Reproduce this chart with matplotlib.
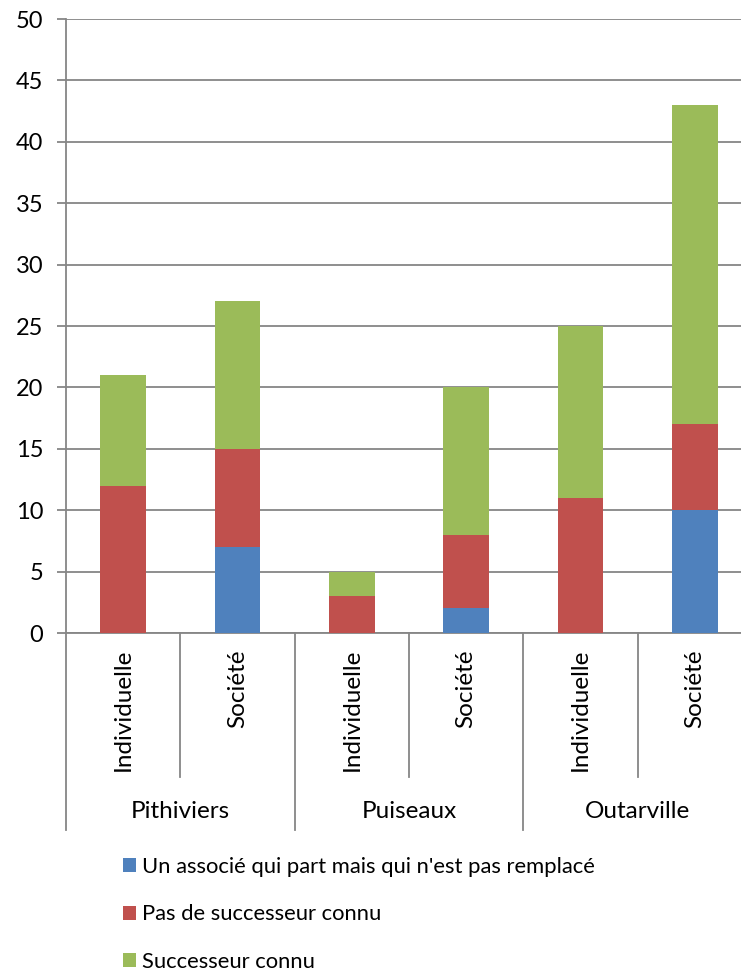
import matplotlib
matplotlib.use("Agg")
import matplotlib.pyplot as plt
from matplotlib.patches import Patch
from matplotlib.transforms import blended_transform_factory

plt.rcParams['font.family'] = ['Lato', 'DejaVu Sans']

groups = ["Pithiviers", "Puiseaux", "Outarville"]
subcats = ["Individuelle", "Société"]
series_names = ["Un associé qui part mais qui n'est pas remplacé",
                "Pas de successeur connu",
                "Successeur connu"]
associe = [0, 7, 0, 2, 0, 10]
pas_successeur = [12, 8, 3, 6, 11, 7]
successeur = [9, 12, 2, 12, 14, 26]
colors = ["#4F81BD", "#C0504D", "#9BBB59"]

W, H = 741, 972
fig = plt.figure(figsize=(W / 100, H / 100), dpi=100)
left, right, top, bottom = 66, 752, 19, 633
ax = fig.add_axes([left / W, 1 - bottom / H, (right - left) / W, (bottom - top) / H])

n = len(groups) * len(subcats)
x = list(range(n))
base = [0] * n
for vals, col in zip([associe, pas_successeur, successeur], colors):
    ax.bar(x, vals, bottom=base, width=0.4, color=col, zorder=3, linewidth=0)
    base = [b + v for b, v in zip(base, vals)]

gray = "#868686"
ax.set_xlim(-0.5, n - 0.5)
ax.set_ylim(0, 50)
ax.set_yticks(range(0, 51, 5))
ax.yaxis.grid(True, color=gray, linewidth=1.3, zorder=0)
ax.set_axisbelow(True)
for s in ["top", "right"]:
    ax.spines[s].set_visible(False)
ax.spines["left"].set_color(gray)
ax.spines["bottom"].set_color(gray)
ax.spines["left"].set_linewidth(1.3)
ax.spines["bottom"].set_linewidth(1.3)
ax.tick_params(axis="y", length=6.5, width=1.3, color=gray, labelsize=17, pad=10)
ax.tick_params(axis="x", length=0, labelbottom=False)

axh = bottom - top
trans = blended_transform_factory(ax.transData, ax.transAxes)
inner_depth = -(777 - bottom) / axh
group_depth = -(830 - bottom) / axh
ns = len(subcats)
for i in range(n + 1):
    xb = i - 0.5
    d = group_depth if i % ns == 0 else inner_depth
    ax.plot([xb, xb], [0, d], color=gray, linewidth=1.3, transform=trans, clip_on=False)

for i in range(n):
    ax.text(i, -(649 - bottom) / axh, subcats[i % ns], rotation=90, ha="center", va="top",
            fontsize=17.5, transform=trans)
for g, name in enumerate(groups):
    ax.text(g * ns + (ns - 1) / 2, -(812 - bottom) / axh, name, ha="center", va="center",
            fontsize=17.5, transform=trans)

handles = [Patch(facecolor=c, edgecolor="none") for c in colors]
fig.legend(handles, series_names, loc="upper left", bbox_to_anchor=(123 / W, 1 - 857 / H),
           frameon=False, fontsize=15.8, handlelength=0.6, handleheight=0.6,
           handletextpad=0.25, labelspacing=1.25, borderaxespad=0, borderpad=0)

fig.savefig("out.png", dpi=100)
